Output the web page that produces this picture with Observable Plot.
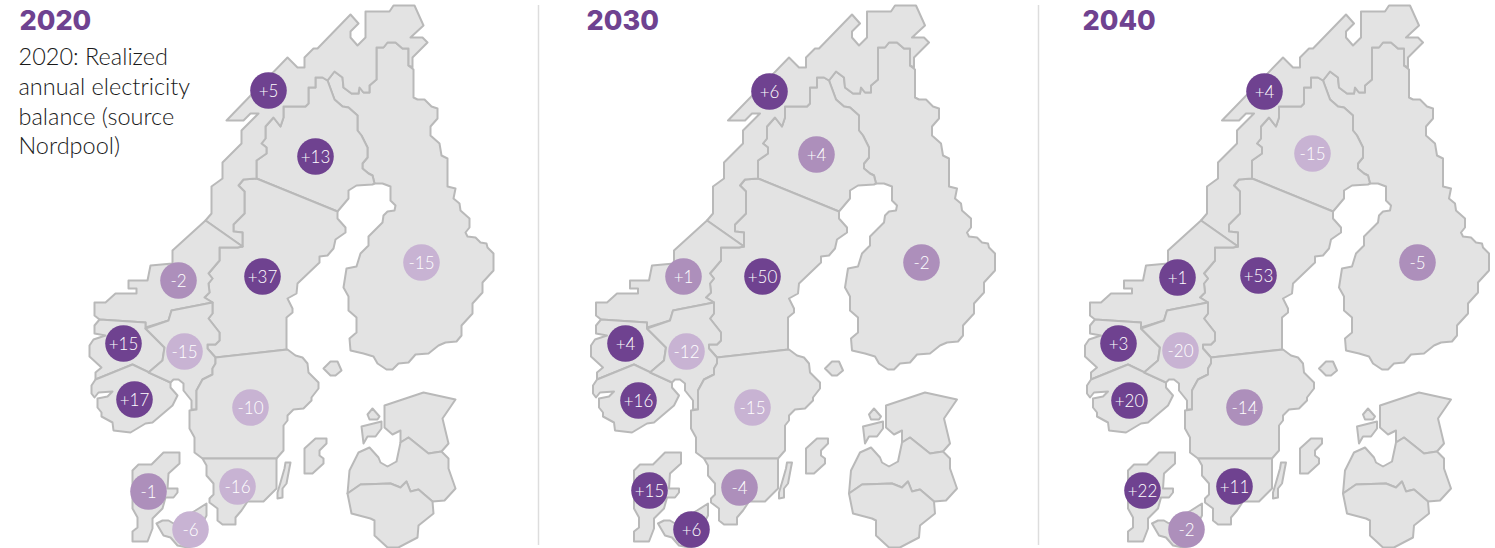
<!DOCTYPE html>
<html>
<head>
<meta charset="utf-8">
<script src="https://cdn.jsdelivr.net/npm/d3@7"></script>
<script src="https://cdn.jsdelivr.net/npm/@observablehq/plot@0.6"></script>
<style>
html,body{margin:0;padding:0;background:#fff}
svg{display:block}
</style>
</head>
<body>
<div id="chart"></div>
<script>
const years = ["2020", "2030", "2040"];
const zones = ["NO4", "SE1", "NO3", "SE2", "FI", "NO5", "NO1", "NO2", "SE3", "DK1", "SE4", "DK2"];
const balance2020 = [5, 13, -2, 37, -15, 15, -15, 17, -10, -1, -16, -6];
const balance2030 = [6, 4, 1, 50, -2, 4, -12, 16, -15, 15, -4, 6];
const balance2040 = [4, -15, 1, 53, -5, 3, -20, 20, -14, 22, 11, -2];
const tone2020 = ["high","high","mid","high","low","high","low","high","low","mid","low","low"];
const tone2030 = ["high","mid","mid","high","mid","high","low","high","low","high","mid","high"];
const tone2040 = ["high","low","high","high","mid","high","low","high","mid","high","high","mid"];
const note = "2020: Realized\nannual electricity\nbalance (source\nNordpool)";

// Bubble anchors, in map units, one per zone per year
const anchorX2020 = [268, 315, 178, 262, 421, 123, 184, 134, 250, 148, 237, 190];
const anchorY2020 = [90, 156, 280, 276, 262, 343, 351, 399, 407, 491, 486, 529];
const anchorX2030 = [769, 816, 683, 762, 921, 625, 686, 638, 752, 649, 739, 691];
const anchorY2030 = [91, 154, 276, 276, 262, 343, 351, 400, 407, 490, 487, 529];
const anchorX2040 = [1264, 1312, 1177, 1258, 1417, 1118, 1180, 1129, 1244, 1142, 1234, 1186];
const anchorY2040 = [91, 153, 277, 275, 262, 343, 350, 400, 407, 490, 486, 529];

// Map outlines
const shapeFI = [[327,80],[334,71],[342,77],[343,87],[351,93],[358,93],[359,87],[363,92],[369,92],[369,85],[376,79],[376,47],[383,47],[387,42],[395,42],[402,48],[408,48],[408,65],[413,69],[413,97],[417,99],[424,99],[431,106],[437,108],[437,118],[430,126],[430,135],[439,143],[441,155],[447,158],[447,186],[455,188],[453,198],[459,203],[460,210],[469,218],[469,227],[465,232],[467,236],[475,237],[480,242],[486,243],[487,247],[493,253],[493,270],[482,282],[482,292],[472,303],[472,313],[461,325],[461,335],[456,341],[445,342],[438,345],[428,353],[415,354],[408,362],[398,363],[392,369],[386,369],[377,363],[373,356],[363,353],[350,350],[349,338],[356,332],[356,317],[348,310],[348,296],[343,287],[346,268],[356,266],[360,253],[368,245],[368,236],[382,222],[383,215],[387,211],[394,210],[395,205],[390,200],[390,186],[382,183],[374,183],[372,175],[368,173],[362,168],[362,163],[367,157],[367,147],[361,135],[357,130],[357,115],[348,107],[342,106],[334,99]];
const shapeSE1 = [[327,80],[322,77],[315,77],[315,87],[308,87],[308,103],[305,106],[283,106],[283,117],[280,126],[273,117],[265,126],[265,138],[261,143],[266,147],[266,153],[256,160],[256,178],[337,211],[348,198],[348,190],[356,185],[372,184],[374,183],[372,175],[368,173],[362,168],[362,163],[367,157],[367,147],[361,135],[357,130],[357,115],[348,107],[342,106],[334,99]];
const shapeSE2 = [[238,185],[243,179],[256,178],[337,211],[337,218],[345,227],[345,232],[335,239],[333,248],[327,255],[319,256],[319,262],[297,283],[296,293],[287,298],[292,308],[292,312],[286,317],[286,349],[215,357],[207,348],[207,344],[215,344],[219,340],[219,332],[208,318],[212,313],[212,302],[204,297],[209,292],[208,283],[212,278],[208,273],[219,260],[219,247],[237,247],[242,246],[242,232],[233,231],[233,224],[244,213],[244,191]];
const shapeNO4 = [[226,120],[287,57],[297,67],[304,67],[304,57],[313,48],[317,48],[350,14],[358,23],[350,31],[350,37],[357,45],[365,37],[365,11],[389,11],[393,5],[414,5],[423,25],[410,37],[422,37],[427,42],[412,57],[412,67],[408,65],[408,48],[402,48],[395,42],[387,42],[383,47],[376,47],[376,79],[369,85],[369,92],[363,92],[359,87],[358,93],[351,93],[343,87],[342,77],[334,71],[327,80],[322,77],[315,77],[315,87],[308,87],[308,103],[305,106],[283,106],[283,117],[280,126],[273,117],[265,126],[265,138],[261,143],[266,147],[266,153],[256,160],[256,178],[243,179],[238,185],[244,191],[244,213],[233,224],[233,231],[242,232],[242,246],[205,220],[211,213],[211,186],[222,178],[222,162],[241,143],[241,130],[258,113],[250,113],[243,120]];
const shapeNO3 = [[205,220],[242,246],[237,247],[219,247],[219,260],[208,273],[212,278],[208,283],[209,292],[204,297],[212,302],[171,310],[168,320],[145,327],[145,322],[99,319],[94,315],[94,302],[105,302],[115,293],[136,293],[136,288],[128,288],[128,280],[147,280],[150,265],[172,263],[172,250]];
const shapeNO5 = [[99,319],[94,325],[94,333],[105,335],[93,339],[89,345],[89,356],[101,367],[95,372],[95,379],[132,364],[148,372],[162,360],[164,347],[145,328],[145,322]];
const shapeNO2 = [[95,379],[91,385],[91,393],[94,397],[98,392],[112,391],[107,396],[97,398],[97,407],[101,412],[101,416],[112,422],[113,430],[130,432],[145,423],[152,422],[172,405],[177,395],[170,387],[170,382],[132,364]];
const shapeNO1 = [[212,302],[212,313],[208,318],[219,332],[219,340],[215,344],[207,344],[207,348],[215,357],[215,363],[212,368],[212,374],[202,379],[196,390],[196,409],[191,409],[191,400],[183,390],[183,383],[178,379],[173,379],[170,382],[148,372],[162,360],[164,347],[145,328],[168,320],[171,310]];
const shapeSE3 = [[215,357],[287,349],[295,355],[302,357],[307,363],[308,372],[318,382],[318,388],[311,397],[311,400],[303,408],[293,409],[287,415],[287,420],[283,425],[283,450],[276,458],[202,458],[194,452],[194,437],[189,428],[189,410],[196,409],[196,390],[202,379],[212,374],[212,368],[215,363]];
const shapeSE4 = [[202,458],[276,458],[276,488],[263,501],[247,501],[241,510],[235,517],[235,524],[222,524],[217,520],[217,508],[209,502],[209,498],[213,494],[213,483],[206,475],[206,465]];
const shapeOland = [[285,462],[290,462],[289,467],[286,483],[282,488],[282,497],[277,498],[277,492],[280,482],[284,468]];
const shapeGotland = [[304,448],[315,438],[326,438],[326,443],[319,450],[319,455],[323,458],[323,463],[312,473],[304,473]];
const shapeAland = [[323,368],[330,361],[337,361],[341,370],[335,375],[330,375]];
const shapeDK1 = [[132,470],[138,464],[151,464],[163,452],[179,452],[179,463],[168,473],[167,488],[177,488],[177,492],[173,497],[165,497],[162,508],[152,518],[152,528],[147,541],[132,541],[132,531],[137,527],[137,517],[132,508]];
const shapeDK2 = [[156,523],[162,520],[168,520],[173,523],[195,510],[206,503],[206,515],[198,530],[195,545],[187,547],[177,545],[170,537],[163,535]];
const shapeEE = [[384,405],[423,392],[455,399],[442,418],[448,443],[441,451],[428,453],[408,437],[400,442],[400,430],[392,434],[384,427]];
const shapeLV = [[400,442],[408,437],[428,453],[441,451],[448,458],[448,468],[455,488],[444,500],[432,501],[418,489],[410,491],[406,481],[400,487],[390,483],[360,484],[347,493],[349,470],[358,452],[369,447],[378,457],[380,462],[387,466],[396,461]];
const shapeLT = [[347,493],[360,484],[390,483],[400,487],[406,481],[410,491],[418,489],[432,501],[433,513],[418,525],[417,537],[398,547],[387,547],[374,535],[374,520],[370,518],[351,513]];
const shapeSaaremaa = [[361,426],[381,421],[381,428],[375,436],[367,436],[363,443]];
const shapeHiiumaa = [[367,414],[372,408],[379,416],[377,419],[369,419]];

const shapes = {shapeFI, shapeSE1, shapeSE2, shapeNO4, shapeNO3, shapeNO5, shapeNO2, shapeNO1, shapeSE3, shapeSE4, shapeOland, shapeGotland, shapeAland, shapeDK1, shapeDK2, shapeEE, shapeLV, shapeLT, shapeSaaremaa, shapeHiiumaa};
const panelShift = [0, 501.5, 995.5];
const titleX = [19, 586, 1082];
const dividers = [538, 1038];

const outline = years.flatMap((year, p) =>
  Object.entries(shapes).flatMap(([name, pts]) =>
    [...pts, pts[0]].map(([x, y]) => ({id: year + name, x: x + panelShift[p], y}))));

const balances = [balance2020, balance2030, balance2040];
const tones = [tone2020, tone2030, tone2040];
const anchorsX = [anchorX2020, anchorX2030, anchorX2040];
const anchorsY = [anchorY2020, anchorY2030, anchorY2040];
const bubbles = years.flatMap((year, p) => zones.map((zone, i) => ({
  year, zone,
  x: anchorsX[p][i], y: anchorsY[p][i],
  value: balances[p][i], tone: tones[p][i],
  label: (balances[p][i] > 0 ? "+" : "") + balances[p][i]
})));
const titles = years.map((year, p) => ({year, x: titleX[p], y: 21}));
const noteLines = note.split("\n").map((t, i) => ({t, x: 18, y: [57, 87, 117, 146][i]}));

const chart = Plot.plot({
  width: 1495,
  height: 548,
  margin: 0,
  x: {domain: [0, 1495], range: [0, 1495], axis: null},
  y: {domain: [0, 548], range: [0, 548], axis: null},
  color: {domain: ["high", "mid", "low"], range: ["#6f4290", "#ad8fbb", "#c8b3d3"]},
  style: {background: "#fff"},
  marks: [
    Plot.ruleX(dividers, {x: d => d, y1: 5, y2: 545, stroke: "#dddddd", strokeWidth: 1.5}),
    Plot.line(outline, {x: "x", y: "y", z: "id", fill: "#e3e3e3", stroke: "#b9b9b9", strokeWidth: 2, curve: "linear", strokeLinejoin: "round"}),
    Plot.dot(bubbles, {x: "x", y: "y", r: 18.3, fill: "tone", stroke: null}),
    Plot.text(bubbles, {x: "x", y: "y", text: "label", fill: "#ffffff", fontSize: 17, fontWeight: 300, fontFamily: "Lato", dy: 1}),
    Plot.text(titles, {x: "x", y: "y", text: "year", fill: "#6f4290", fontSize: 27, fontWeight: 800, fontFamily: "Inter", textAnchor: "start"}),
    Plot.text(noteLines, {x: "x", y: "y", text: "t", fill: "#1a1a1a", fontSize: 23.5, fontWeight: 300, fontFamily: "Lato", textAnchor: "start"})
  ]
});
document.getElementById("chart").append(chart);
</script>
</body>
</html>
